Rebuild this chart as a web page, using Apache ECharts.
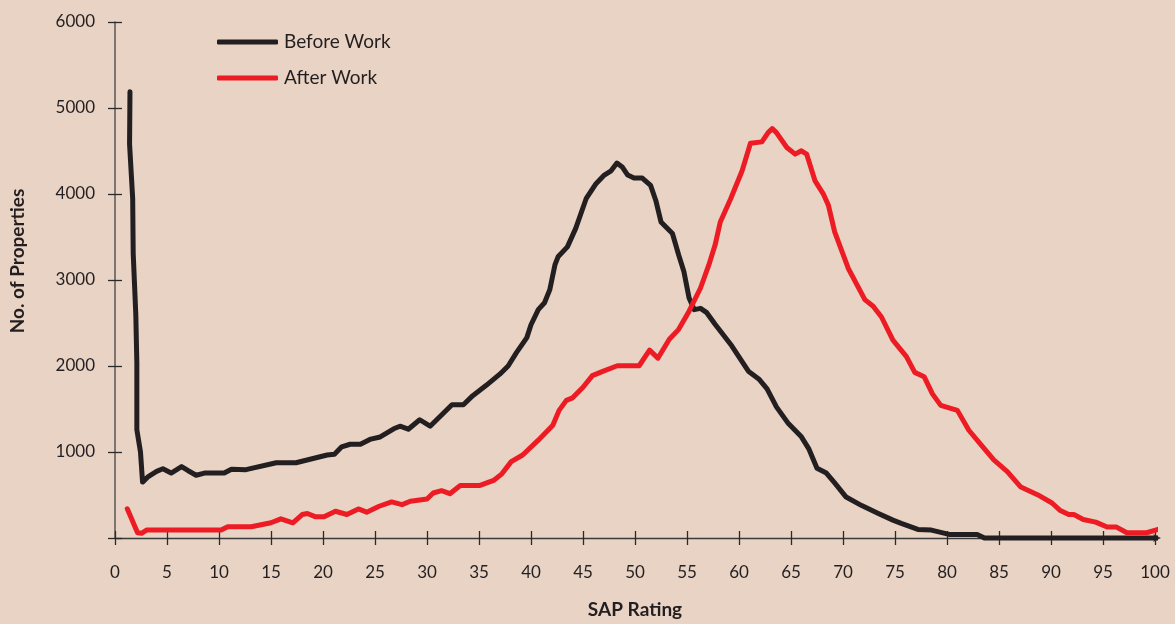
<!DOCTYPE html>
<html>
<head>
<meta charset="utf-8">
<script src="https://cdn.jsdelivr.net/npm/echarts@6/dist/echarts.min.js"></script>
<style>
html,body{margin:0;padding:0;background:#e8d3c5;}
#c{width:1175px;height:624px;}
</style>
</head>
<body>
<div id="c"></div>
<script>
var seriesNames = ['Before Work', 'After Work'];
var xTicks = [0,5,10,15,20,25,30,35,40,45,50,55,60,65,70,75,80,85,90,95,100];
var yTicks = [1000,2000,3000,4000,5000,6000];

var beforeX = [1.44,1.4,1.7,1.75,2.0,2.1,2.1,2.45,2.65,3.2,4.0,4.6,5.4,6.4,7.0,7.8,8.6,10.5,11.2,12.6,15.5,17.4,20.4,21.1,21.8,22.6,23.6,24.6,25.5,26.8,27.4,28.2,29.3,30.3,32.4,33.5,34.4,35.7,37.0,37.8,38.6,39.6,40.0,40.7,41.3,41.8,42.3,42.6,43.5,44.3,45.3,46.25,47.05,47.7,48.26,48.8,49.3,49.9,50.7,51.5,52.0,52.5,53.6,54.2,54.7,55.2,55.7,56.3,56.9,57.7,59.3,60.9,61.9,62.7,63.6,64.75,66.0,66.7,67.5,68.4,69.2,70.3,71.8,73.4,74.8,75.6,77.2,78.5,80.2,82.9,83.6,100.3];
var beforeY = [5190,4580,3950,3310,2600,2040,1260,1000,650,715,775,805,755,830,785,730,755,755,800,795,875,875,965,975,1060,1090,1090,1150,1175,1270,1300,1265,1375,1300,1550,1550,1655,1775,1905,2000,2155,2330,2480,2655,2735,2885,3175,3270,3385,3600,3945,4120,4220,4270,4360,4310,4220,4185,4185,4100,3925,3675,3540,3290,3100,2790,2655,2670,2620,2485,2235,1940,1850,1735,1525,1330,1176,1040,810,755,640,476,377,285,208,170,100,92,42,42,0,0];

var afterX = [1.18,2.17,2.55,3.03,10.2,10.84,13.1,15.0,15.95,17.1,18.0,18.5,19.3,20.1,21.2,22.3,23.4,24.2,25.4,26.6,27.6,28.4,30.0,30.6,31.4,32.2,33.2,35.1,36.4,37.2,38.1,39.2,40.7,42.1,42.7,43.4,44.0,45.0,45.9,46.9,48.3,50.4,51.4,52.2,53.3,54.2,55.2,56.3,57.1,57.7,58.2,59.2,60.3,61.1,62.2,62.8,63.2,63.6,64.6,65.4,66.0,66.5,67.3,68.1,68.6,69.2,70.5,72.1,72.9,73.7,74.8,76.1,76.9,77.8,78.6,79.4,81.0,82.1,83.3,84.5,85.8,87.1,88.7,90.1,90.9,91.7,92.2,93.1,94.3,95.4,96.3,97.3,99.2,100.3];
var afterY = [340,60,55,92,92,130,130,177,223,177,273,285,246,246,311,273,338,300,369,420,388,427,453,523,550,515,611,611,669,746,888,965,1138,1311,1484,1600,1630,1753,1888,1938,2003,2003,2184,2091,2311,2426,2637,2907,3175,3406,3675,3945,4271,4590,4606,4714,4760,4714,4541,4464,4502,4464,4156,4002,3868,3560,3137,2772,2695,2570,2300,2110,1926,1876,1676,1542,1484,1253,1081,908,773,592,504,407,319,273,273,215,185,127,127,61,61,100];

function zip(xs, ys){ return xs.map(function(x,i){ return [x, ys[i]]; }); }

var txt = '#231f20';
var font = 'Lato, "Open Sans", sans-serif';

var chart = echarts.init(document.getElementById('c'), null, {renderer:'canvas'});
chart.setOption({
  backgroundColor: '#e8d3c5',
  animation: false,
  grid: {left:110, right:20, top:22, bottom:82, containLabel:false},
  legend: {
    data: seriesNames,
    orient: 'vertical',
    left: 212, top: 26,
    itemWidth: 61, itemHeight: 5,
    itemGap: 14,
    icon: 'roundRect',
    textStyle: {color: txt, fontSize: 19, fontFamily: font, lineHeight: 22, padding:[0,0,0,1]}
  },
  xAxis: [{
    type: 'value', min: 0, max: 100, interval: 5,
    name: 'SAP Rating', nameLocation: 'middle', nameGap: 62,
    nameTextStyle: {color: txt, fontSize: 19, fontWeight: 'bold', fontFamily: font},
    axisLine: {show: true, lineStyle: {color: '#3a3a3a', width: 1.3}, symbol: ['none','arrow'], symbolSize: [6,8], symbolOffset: [0,6]},
    axisTick: {show: true, length: 7, lineStyle: {color: '#2a2a2a', width: 1.3}},
    axisLabel: {color: txt, fontSize: 17, fontFamily: font, margin: 26,
      formatter: function(v){ return xTicks.indexOf(v) >= 0 ? String(v) : ''; }},
    splitLine: {show: false}
  },{
    type: 'value', min: 0, max: 100, interval: 5, position: 'bottom',
    axisLine: {show: false},
    axisTick: {show: true, inside: true, length: 7, lineStyle: {color: '#2a2a2a', width: 1.3}},
    axisLabel: {show: false}, splitLine: {show: false}
  }],
  yAxis: [{
    type: 'value', min: 0, max: 6000, interval: 1000,
    name: 'No. of Properties', nameLocation: 'middle', nameGap: 88,
    nameTextStyle: {color: txt, fontSize: 19, fontWeight: 'bold', fontFamily: font, padding:[0,0,0,38]},
    axisLine: {show: true, lineStyle: {color: '#5a5656', width: 1.5}},
    axisTick: {show: true, length: 7, lineStyle: {color: '#2a2a2a', width: 1.3}},
    axisLabel: {color: txt, fontSize: 17, fontFamily: font, margin: 20,
      formatter: function(v){ return yTicks.indexOf(v) >= 0 ? String(v) : ''; }},
    splitLine: {show: false}
  },{
    type: 'value', min: 0, max: 6000, interval: 1000, position: 'left',
    axisLine: {show: false},
    axisTick: {show: true, inside: true, length: 7, lineStyle: {color: '#2a2a2a', width: 1.3}},
    axisLabel: {show: false}, splitLine: {show: false}
  }],
  series: [{
    name: seriesNames[0], type: 'line', xAxisIndex: 0, yAxisIndex: 0,
    data: zip(beforeX, beforeY), showSymbol: false, symbol: 'none', clip: false,
    lineStyle: {color: '#231f20', width: 5, cap: 'round', join: 'round'},
    itemStyle: {color: '#231f20'}
  },{
    name: seriesNames[1], type: 'line', xAxisIndex: 0, yAxisIndex: 0,
    data: zip(afterX, afterY), showSymbol: false, symbol: 'none', clip: false,
    lineStyle: {color: '#ed1c24', width: 5, cap: 'round', join: 'round'},
    itemStyle: {color: '#ed1c24'}
  }]
});
</script>
</body>
</html>
